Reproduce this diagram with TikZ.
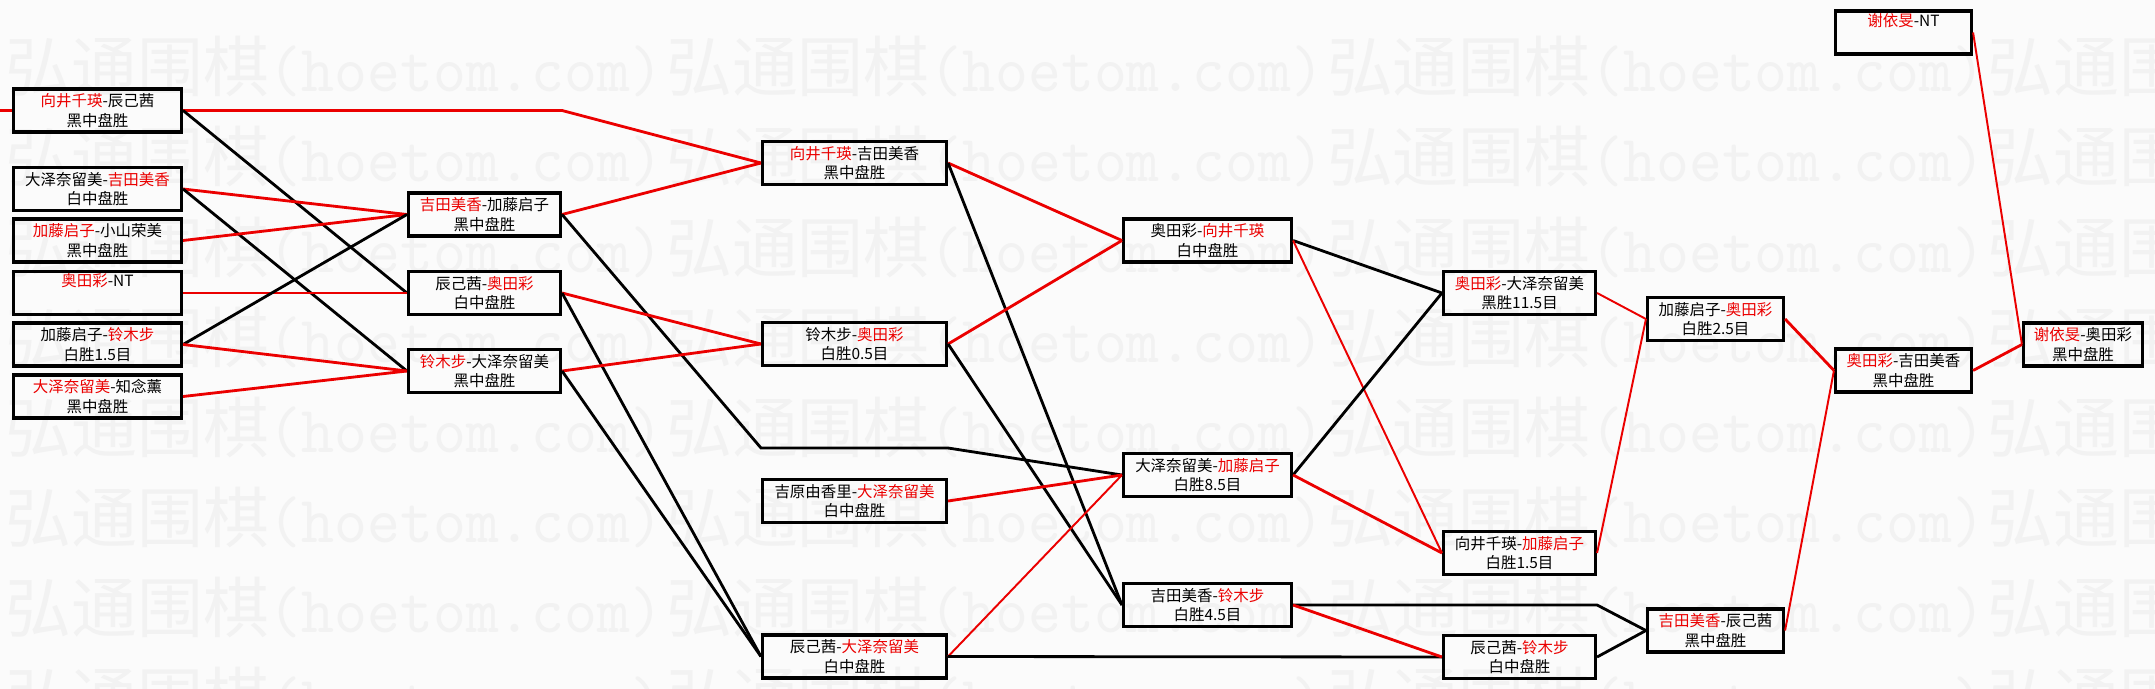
\documentclass[tikz,border=0pt]{standalone}
\usepackage{fontspec}
\setmainfont{Noto Sans CJK SC}
\newfontfamily\wmfont{Noto Sans CJK SC}
\newfontfamily\wmmono[FakeStretch=0.95]{lmmono10-regular.otf}
\definecolor{winred}{RGB}{235,0,0}
\newcommand{\wn}[1]{\textcolor{winred}{#1}}
\newcommand{\wmunit}{\makebox[13.22cm][l]{\wmfont 弘通围棋\wmmono(hoetom.com)}}
\newcommand{\wmrow}{\wmunit\wmunit\wmunit\wmunit}

\begin{document}
\begin{tikzpicture}[x=0.02cm, y=-0.02cm,
  match/.style={draw=black, line width=1.8pt, inner sep=0pt, minimum height=0.86cm,
    align=center, font=\fontsize{8.8pt}{11pt}\selectfont},
  rd1/.style={match, minimum width=3.36cm},
  rd2/.style={match, minimum width=3.04cm},
  rd3/.style={match, minimum width=3.68cm},
  rd4/.style={match, minimum width=3.36cm},
  rd5/.style={match, minimum width=3.04cm},
  rd6/.style={match, minimum width=2.72cm},
  rd7/.style={match, minimum width=2.72cm},
  rd8/.style={match, minimum width=2.38cm},
  win/.style={draw=winred, line width=1.6pt},
  winfine/.style={draw=winred, line width=1.1pt},
  lose/.style={draw=black, line width=1.6pt},
  wm/.style={anchor=base west, inner sep=0pt, text=black!5,
    font=\fontsize{37.5pt}{40pt}\selectfont}
]

% fond
\fill[black!1.5] (0,0) rectangle (2155,689);
\useasboundingbox (0,0) rectangle (2155,689);

% filigrane
\node[wm] (wm1) at (5,92) {\wmrow};
\node[wm] (wm2) at (5,182) {\wmrow};
\node[wm] (wm3) at (5,272) {\wmrow};
\node[wm] (wm4) at (5,362) {\wmrow};
\node[wm] (wm5) at (5,452) {\wmrow};
\node[wm] (wm6) at (5,542) {\wmrow};
\node[wm] (wm7) at (5,632) {\wmrow};
\node[wm] (wm8) at (5,722) {\wmrow};

% Tour 1
\node[rd1] (a1) at (97.5,110.5) {\wn{向井千瑛}-辰己茜\\黑中盘胜};
\node[rd1] (a2) at (97.5,189) {大泽奈留美-\wn{吉田美香}\\白中盘胜};
\node[rd1] (a3) at (97.5,240.5) {\wn{加藤启子}-小山荣美\\黑中盘胜};
\node[rd1] (a4) at (97.5,293) {\wn{奥田彩}-NT\\\strut};
\node[rd1] (a5) at (97.5,344.5) {加藤启子-\wn{铃木步}\\白胜1.5目};
\node[rd1] (a6) at (97.5,396.5) {\wn{大泽奈留美}-知念薰\\黑中盘胜};

% Tour 2
\node[rd2] (c1) at (484.5,214.5) {\wn{吉田美香}-加藤启子\\黑中盘胜};
\node[rd2] (c2) at (484.5,293) {辰己茜-\wn{奥田彩}\\白中盘胜};
\node[rd2] (c3) at (484.5,371) {\wn{铃木步}-大泽奈留美\\黑中盘胜};

% Tour 3
\node[rd3] (d1) at (854.5,163) {\wn{向井千瑛}-吉田美香\\黑中盘胜};
\node[rd3] (d2) at (854.5,344) {铃木步-\wn{奥田彩}\\白胜0.5目};
\node[rd3] (d3) at (854.5,501) {吉原由香里-\wn{大泽奈留美}\\白中盘胜};
\node[rd3] (d4) at (854.5,656.5) {辰己茜-\wn{大泽奈留美}\\白中盘胜};

% Tour 4
\node[rd4] (e1) at (1207.5,240.5) {奥田彩-\wn{向井千瑛}\\白中盘胜};
\node[rd4] (e2) at (1207.5,475) {大泽奈留美-\wn{加藤启子}\\白胜8.5目};
\node[rd4] (e3) at (1207.5,605) {吉田美香-\wn{铃木步}\\白胜4.5目};

% Tour 5
\node[rd5] (f1) at (1519.5,293) {\wn{奥田彩}-大泽奈留美\\黑胜11.5目};
\node[rd5] (f2) at (1519.5,553) {向井千瑛-\wn{加藤启子}\\白胜1.5目};
\node[rd5] (f3) at (1519.5,657) {辰己茜-\wn{铃木步}\\白中盘胜};

% Tour 6
\node[rd6] (g1) at (1715.5,319) {加藤启子-\wn{奥田彩}\\白胜2.5目};
\node[rd6] (g2) at (1715.5,630.5) {\wn{吉田美香}-辰己茜\\黑中盘胜};

% Finale
\node[rd7] (h0) at (1903.5,32.5) {\wn{谢依旻}-NT\\\strut};
\node[rd7] (h1) at (1903.5,370.5) {\wn{奥田彩}-吉田美香\\黑中盘胜};
\node[rd8] (k1) at (2083,344.5) {\wn{谢依旻}-奥田彩\\黑中盘胜};

% Points de passage
\coordinate (in) at (0,110.5);
\coordinate (p1) at (761,448);
\coordinate (p2) at (948,448);

% Liaisons tour 1
\draw[win] (in) -- (a1.west);
\draw[win] (a1.east) -- (a1.east -| c1.east) -- (d1.west);
\draw[lose] (a1.east) -- (c2.west);
\draw[win] (a2.east) -- (c1.west);
\draw[lose] (a2.east) -- (c3.west);
\draw[win] (a3.east) -- (c1.west);
\draw[win] (a4.east) -- (c2.west);
\draw[lose] (a5.east) -- (c1.west);
\draw[win] (a5.east) -- (c3.west);
\draw[win] (a6.east) -- (c3.west);

% Liaisons tour 2
\draw[win] (c1.east) -- (d1.west);
\draw[lose] (c1.east) -- (p1) -- (p2) -- (e2.west);
\draw[win] (c2.east) -- (d2.west);
\draw[lose] (c2.east) -- (d4.west);
\draw[win] (c3.east) -- (d2.west);
\draw[lose] (c3.east) -- (d4.west);

% Liaisons tour 3
\draw[win] (d1.east) -- (e1.west);
\draw[lose] (d1.east) -- (e3.west);
\draw[win] (d2.east) -- (e1.west);
\draw[lose] (d2.east) -- (e3.west);
\draw[win] (d3.east) -- (e2.west);
\draw[winfine] (d4.east) -- (e2.west);
\draw[lose] (d4.east) -- (f3.west);

% Liaisons tour 4
\draw[lose] (e1.east) -- (f1.west);
\draw[winfine] (e1.east) -- (f2.west);
\draw[lose] (e2.east) -- (f1.west);
\draw[win] (e2.east) -- (f2.west);
\draw[lose] (e3.east) -- (e3.east -| f3.east) -- (g2.west);
\draw[win] (e3.east) -- (f3.west);

% Liaisons tour 5
\draw[winfine] (f1.east) -- (g1.west);
\draw[winfine] (f2.east) -- (g1.west);
\draw[lose] (f3.east) -- (g2.west);

% Finale
\draw[win] (g1.east) -- (h1.west);
\draw[winfine] (g2.east) -- (h1.west);
\draw[win] (h1.east) -- (k1.west);
\draw[winfine] (h0.east) -- (k1.west);

\end{tikzpicture}
\end{document}
